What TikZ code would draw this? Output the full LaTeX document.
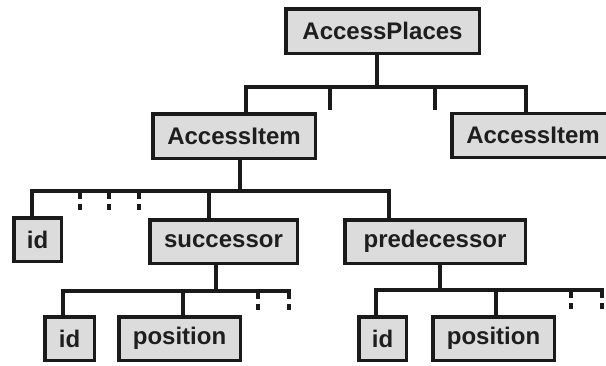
\documentclass[tikz,border=0pt]{standalone}
\usepackage{fontspec}
\setmainfont{Liberation Sans}
\begin{document}
\begin{tikzpicture}[x=1pt,y=-1pt,
  elem/.style={draw=linegray,fill=boxgray,line width=3.5pt,inner sep=0pt,
    text=textgray,font=\fontsize{24}{28}\selectfont\bfseries},
  branch/.style={draw=linegray,line width=3.5pt,line join=miter},
  stub/.style={draw=linegray,line width=3.2pt,dash pattern=on 6pt off 5pt}]
\definecolor{boxgray}{HTML}{DCDCDC}
\definecolor{linegray}{HTML}{1A1A1A}
\definecolor{textgray}{HTML}{1E1E1E}
\useasboundingbox (0,0) rectangle (606,365);
\clip (0,0) rectangle (606,365);

% element boxes
\node[elem,minimum width=193.5pt,minimum height=44.5pt] (ap)   at (382.5,31)    {AccessPlaces};
\node[elem,minimum width=162.5pt,minimum height=44.5pt] (ai1)  at (234,136)     {AccessItem};
\node[elem,minimum width=162.5pt,minimum height=44pt]   (ai2)  at (533,135.5)   {AccessItem};
\node[elem,minimum width=47.5pt, minimum height=43.5pt] (id1)  at (37.5,239.5)  {id};
\node[elem,minimum width=147.5pt,minimum height=43.5pt] (suc)  at (223.5,241.5) {successor};
\node[elem,minimum width=180.5pt,minimum height=43.5pt] (pre)  at (435,241.5)   {predecessor};
\node[elem,minimum width=49.5pt, minimum height=43.5pt] (id2)  at (69.5,338.5)  {id};
\node[elem,minimum width=121.5pt,minimum height=43.5pt] (pos1) at (179.5,338.5) {position};
\node[elem,minimum width=47.5pt, minimum height=43.5pt] (id3)  at (382.5,338.5) {id};
\node[elem,minimum width=121.5pt,minimum height=43.5pt] (pos2) at (493.5,338.5) {position};

% level 1: AccessPlaces
\coordinate (t0) at (377,87);
\coordinate (a1) at (246,87);
\coordinate (a2) at (526,87);
\draw[branch] (ap.south -| t0) -- (t0);
\draw[branch] (a1 |- ai1.north) -- (a1) -- (a2) -- (a2 |- ai2.north);
\coordinate (s1) at (330,87);
\coordinate (s2) at (435,87);
\draw[branch] (s1) -- ++(0,23);
\draw[branch] (s2) -- ++(0,23);

% level 2: AccessItem
\coordinate (t1) at (240,191);
\coordinate (b1) at (32,191);
\coordinate (b2) at (209,191);
\coordinate (b3) at (389,191);
\draw[branch] (ai1.south -| t1) -- (t1);
\draw[branch] (b1 |- id1.north) -- (b1) -- (b3) -- (b3 |- pre.north);
\draw[branch] (b2) -- (b2 |- suc.north);
\foreach \x/\n in {80/m1,109/m2,139/m3}{
  \coordinate (\n) at (\x,193);
  \draw[stub] (\n) -- ++(0,19);
}

% level 3: successor
\coordinate (t2) at (216,291);
\coordinate (c1) at (63,291);
\coordinate (c2) at (183,291);
\coordinate (c3) at (289,291);
\draw[branch] (suc.south -| t2) -- (t2);
\draw[branch] (c1 |- id2.north) -- (c1) -- (c3) -- ++(0,2);
\draw[branch] (c2) -- (c2 |- pos1.north);
\coordinate (n1) at (258,293);
\coordinate (n2) at (289,293);
\draw[stub] (n1) -- ++(0,18);
\draw[stub] (n2) -- ++(0,18);

% level 3: predecessor
\coordinate (t3) at (440,290);
\coordinate (e1) at (376,290);
\coordinate (e2) at (496,290);
\coordinate (e3) at (602,290);
\draw[branch] (pre.south -| t3) -- (t3);
\draw[branch] (e1 |- id3.north) -- (e1) -- (e3) -- ++(0,2);
\draw[branch] (e2) -- (e2 |- pos2.north);
\coordinate (r1) at (571,292);
\coordinate (r2) at (602,292);
\draw[stub] (r1) -- ++(0,18);
\draw[stub] (r2) -- ++(0,18);
\end{tikzpicture}
\end{document}
